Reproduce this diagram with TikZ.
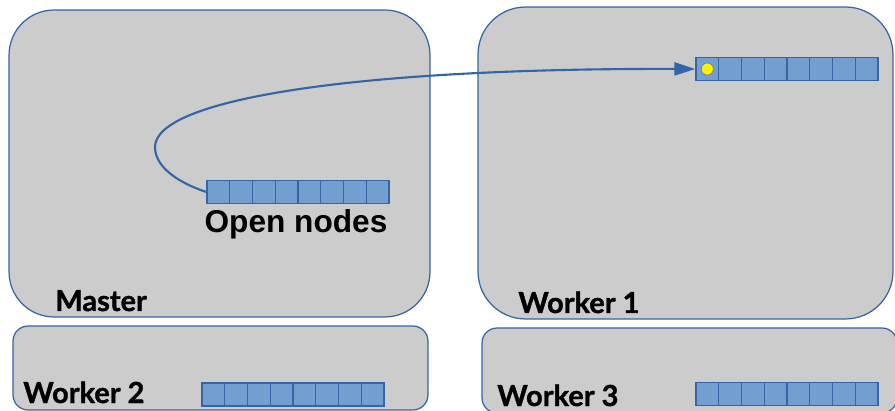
\documentclass[tikz,border=0pt]{standalone}
\usepackage{fontspec}
\usepackage{tikz}
\usetikzlibrary{arrows.meta,positioning}
\newfontfamily\latofont{Lato}[BoldFeatures={FakeBold=1.2}]
\newfontfamily\arialfont{Liberation Sans}
\definecolor{boxgray}{HTML}{CCCCCC}
\definecolor{edgeblue}{HTML}{3465A4}
\definecolor{cellblue}{HTML}{729FCF}

\begin{document}
\begin{tikzpicture}[x=0.02cm,y=-0.02cm,
  box/.style={draw=edgeblue,fill=boxgray,line width=0.7pt,inner sep=0pt},
  cell/.style={draw=edgeblue,fill=cellblue,line width=0.7pt,inner sep=0pt,
    minimum width=0.455cm,minimum height=0.46cm},
  boxlabel/.style={font=\latofont\bfseries\fontsize{16.5}{18}\selectfont,inner sep=0pt,anchor=base west},
  link/.style={draw=edgeblue,line width=1.2pt,-{Triangle[length=4.2mm,width=2.6mm]}}]
\clip (0,0) rectangle (895,411);
\node[box,minimum width=8.42cm,minimum height=6.14cm,rounded corners=0.9cm] (master) at (219.5,163.5) {};
\node[box,minimum width=8.3cm,minimum height=6.24cm,rounded corners=0.95cm] (worker1) at (685.5,163) {};
\node[box,minimum width=8.3cm,minimum height=1.68cm,rounded corners=0.3cm] (worker2) at (220.5,368) {};
\node[box,minimum width=8.3cm,minimum height=1.7cm,rounded corners=0.3cm] (worker3) at (689.5,370.5) {};

\foreach \q/\x/\y in {mq/207/192, wa/696/69, wb/202/394.5, wc/696/394} {
  \foreach \i in {1,...,8}
    \node[cell] (\q\i) at (\x-11.375+\i*22.75,\y) {};
}
\node[circle,fill=yellow,draw=black!50,line width=0.4pt,inner sep=0pt,minimum size=0.24cm] (dot) at (wa1) {};

\node[boxlabel] (lmaster) at (55,311) {Master};
\node[boxlabel] (lworker1) at (518,313) {Worker 1};
\node[boxlabel] (lworker2) at (23,403) {Worker 2};
\node[boxlabel] (lworker3) at (497,406) {Worker 3};
\node[font=\arialfont\bfseries\fontsize{18}{20}\selectfont,inner sep=0pt,anchor=base] (open) at (296,233) {Open nodes};

\coordinate (bend) at (155,147);
\draw[link] (mq1.west) .. controls (185,185) and (155,170) .. (bend)
  .. controls (155,100) and (350,68) .. (wa1.west);
\end{tikzpicture}
\end{document}
